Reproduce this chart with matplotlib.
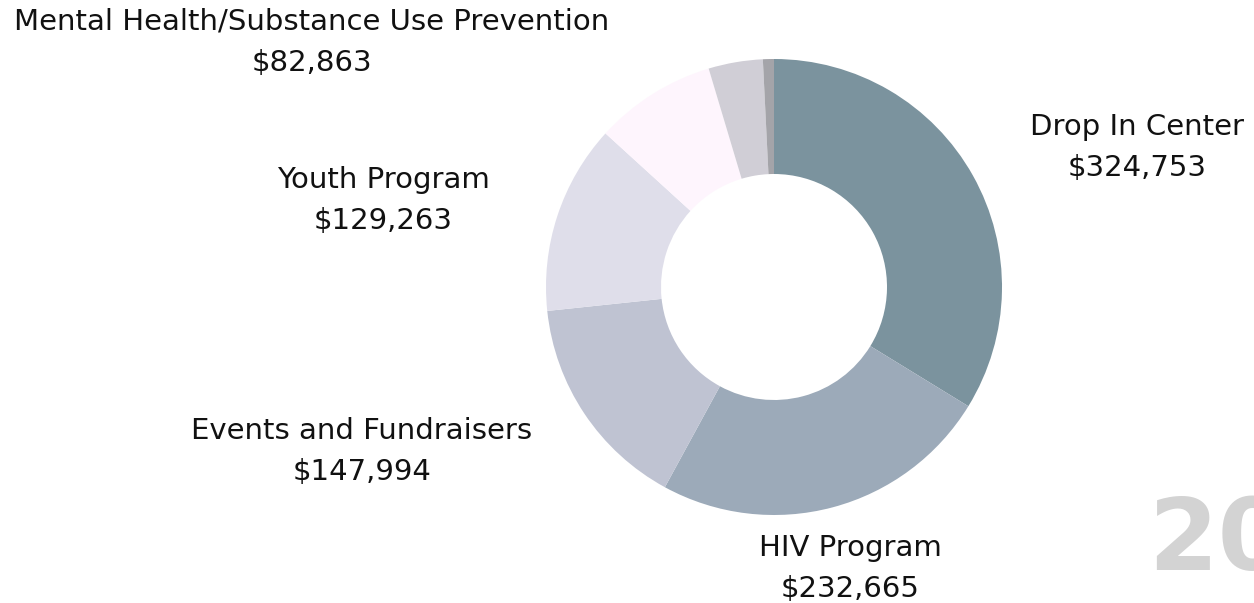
import matplotlib
matplotlib.use("Agg")
import matplotlib.pyplot as plt

categories = ["Drop In Center", "HIV Program", "Events and Fundraisers", "Youth Program",
              "Mental Health/Substance Use Prevention", "Other", "Misc"]
values = [324753, 232665, 147994, 129263, 82863, 37000, 7500]
value_labels = ["$324,753", "$232,665", "$147,994", "$129,263", "$82,863", None, None]
colors = ["#7B939E", "#9CAAB9", "#BFC3D2", "#DFDEEA", "#FEF5FD", "#D0CED6", "#A4A4A9"]

# label anchor positions in pixel-like axes coords (x, y from top)
label_pos = {
    "Drop In Center": (1137, 127),
    "HIV Program": (850, 548),
    "Events and Fundraisers": (362, 431),
    "Youth Program": (383, 180),
    "Mental Health/Substance Use Prevention": (312, 22),
}

W, H = 1254, 603
fig = plt.figure(figsize=(W / 100, H / 100), dpi=100)
ax = fig.add_axes([0, 0, 1, 1])

cx, cy, R = 774, 287, 228
ax.pie(values, colors=colors, startangle=-90, counterclock=True,
       radius=R, center=(cx, cy),
       wedgeprops=dict(width=R - 113, linewidth=0))
# y-axis inverted (pixel-like coords), so start -90 is the top and
# counterclockwise in data becomes clockwise on screen
ax.set_xlim(0, W)
ax.set_ylim(H, 0)
ax.set_aspect("equal")
ax.axis("off")

font = "DejaVu Sans"
fs = 21
for cat, val in zip(categories, value_labels):
    if val is None:
        continue
    x, y = label_pos[cat]
    ax.text(x, y, cat, ha="center", va="center", fontsize=fs, color="#111111", family=font)
    ax.text(x, y + 41, val, ha="center", va="center", fontsize=fs, color="#111111", family=font)

ax.text(1148, 570, "20", ha="left", va="baseline", fontsize=72, fontweight="bold",
        color="#D3D3D3", family=font, clip_on=False)

fig.savefig("out.png", dpi=100)
